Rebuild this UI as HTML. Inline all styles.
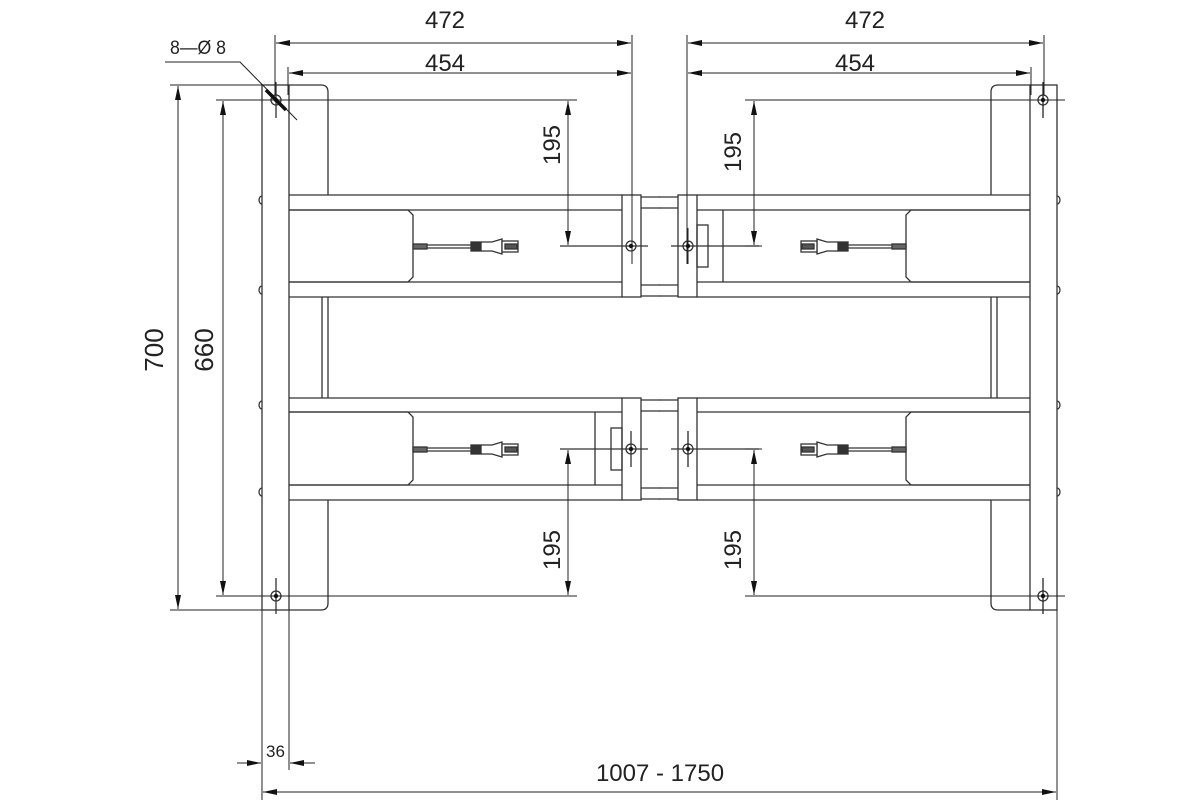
<!DOCTYPE html>
<html><head><meta charset="utf-8"><style>
html,body{margin:0;padding:0;background:#fff;}
svg{display:block;}
text{font-family:"Liberation Sans",sans-serif;fill:#222;}
</style></head><body>
<svg width="1200" height="800" viewBox="0 0 1200 800" xmlns="http://www.w3.org/2000/svg">
<defs>
<marker id="a" viewBox="0 0 14 6" refX="14" refY="3" markerWidth="14" markerHeight="6" markerUnits="userSpaceOnUse" orient="auto-start-reverse"><path d="M0,0 L14,3 L0,6 Z" fill="#111"/></marker>
<g id="half" fill="none" stroke="#333" stroke-width="1.3">
  <rect x="262" y="85" width="27" height="525"/>
  <path d="M289,85 H321 Q328,85 328,92 V195"/>
  <path d="M289,610 H321 Q328,610 328,603 V500"/>
  <path d="M262,196 a3,4 0 0 0 0,8 M262,286 a3,4 0 0 0 0,8 M262,401 a3,4 0 0 0 0,8 M262,488 a3,4 0 0 0 0,8"/>
  <line x1="322" y1="297" x2="322" y2="398"/><line x1="328" y1="297" x2="328" y2="398"/>
  <path d="M289,195 H622 M289,210 H622 M289,282 H622 M289,297 H622"/>
  <path d="M289,398 H622 M289,412 H622 M289,485 H622 M289,500 H622"/>
  <path d="M641,197 H660 M641,208 H660 M641,285 H660 M641,296 H660"/>
  <path d="M641,400 H660 M641,411 H660 M641,488 H660 M641,499 H660"/>
  <path d="M289,210 H408 L413,215 V277 L408,282 H289"/>
  <path d="M289,412 H408 L413,417 V480 L408,485 H289"/>
  <rect x="622" y="195" width="19" height="102"/>
  <rect x="622" y="398" width="19" height="102"/>
  <circle cx="276" cy="100" r="5"/><circle cx="276" cy="596" r="5"/>
  <circle cx="631" cy="246" r="5"/><circle cx="631" cy="449" r="5"/>
  <g id="conn">
    <rect x="413" y="244" width="14" height="5" fill="#666"/>
    <path d="M427,245 H471 M427,248 H471"/>
    <rect x="471" y="242" width="10" height="9" fill="#333"/>
    <path d="M481,242 H492 L502,239 V254 L492,251 H481"/>
    <rect x="502" y="241" width="16" height="11" fill="#fff"/>
    <rect x="505" y="244" width="12" height="5" fill="#555"/>
  </g>
  <use href="#conn" transform="translate(0,203)"/>
  <path d="M276,82 V118 M631,431 V467 M276,578 V614"/>
  <path d="M560,246 H648 M560,449 H648"/>
</g>
</defs>
<use href="#half"/>
<use href="#half" transform="translate(1319,0) scale(-1,1)"/>
<g fill="none" stroke="#333" stroke-width="1.3">
  <rect x="697" y="225" width="11" height="42"/>
  <line x1="723" y1="210" x2="723" y2="282"/>
  <rect x="611" y="428" width="11" height="42"/>
  <line x1="595" y1="412" x2="595" y2="485"/>
</g>
<g stroke="#222" stroke-width="1" fill="none">
  <line x1="275" y1="35" x2="275" y2="95"/>
  <line x1="288" y1="67" x2="288" y2="95"/>
  <line x1="632" y1="35" x2="632" y2="264"/>
  <line x1="687" y1="35" x2="687" y2="264"/>
  <line x1="1044" y1="35" x2="1044" y2="95"/>
  <line x1="1031" y1="67" x2="1031" y2="95"/>
  <line x1="276" y1="43" x2="631" y2="43" marker-start="url(#a)" marker-end="url(#a)"/>
  <line x1="289" y1="73" x2="631" y2="73" marker-start="url(#a)" marker-end="url(#a)"/>
  <line x1="688" y1="43" x2="1043" y2="43" marker-start="url(#a)" marker-end="url(#a)"/>
  <line x1="688" y1="73" x2="1030" y2="73" marker-start="url(#a)" marker-end="url(#a)"/>
  <path d="M216,100 H577 M216,596 H577 M745,100 H1065 M745,596 H1065"/>
  <path d="M1043,82 V118 M1043,578 V614 M688,228 V264 M688,431 V467"/>
  <line x1="568" y1="101" x2="568" y2="245" marker-start="url(#a)" marker-end="url(#a)"/>
  <line x1="568" y1="450" x2="568" y2="595" marker-start="url(#a)" marker-end="url(#a)"/>
  <line x1="754" y1="101" x2="754" y2="245" marker-start="url(#a)" marker-end="url(#a)"/>
  <line x1="754" y1="450" x2="754" y2="595" marker-start="url(#a)" marker-end="url(#a)"/>
  <path d="M745,246 H762 M745,449 H762"/>
  <line x1="170" y1="85" x2="262" y2="85"/>
  <line x1="170" y1="610" x2="262" y2="610"/>
  <line x1="178" y1="86" x2="178" y2="609" marker-start="url(#a)" marker-end="url(#a)"/>
  <line x1="223" y1="101" x2="223" y2="595" marker-start="url(#a)" marker-end="url(#a)"/>
  <path d="M165,62 H240 L297,120"/>
  <line x1="262" y1="610" x2="262" y2="800"/>
  <line x1="289" y1="610" x2="289" y2="770"/>
  <line x1="1057" y1="610" x2="1057" y2="800"/>
  <line x1="237" y1="763" x2="261" y2="763" marker-end="url(#a)"/>
  <line x1="315" y1="763" x2="290" y2="763" marker-end="url(#a)"/>
  <line x1="263" y1="792" x2="1056" y2="792" marker-start="url(#a)" marker-end="url(#a)"/>
</g>
<g stroke="#111" stroke-width="3.5"><line x1="266" y1="90" x2="286" y2="110"/></g>
<g fill="#111">
  <circle cx="276" cy="100" r="2.2"/><circle cx="276" cy="596" r="2.2"/>
  <circle cx="631" cy="246" r="2.2"/><circle cx="631" cy="449" r="2.2"/>
  <circle cx="1043" cy="100" r="2.2"/><circle cx="1043" cy="596" r="2.2"/>
  <circle cx="688" cy="246" r="2.2"/><circle cx="688" cy="449" r="2.2"/>
</g>
<g font-size="24" text-anchor="middle">
  <text x="445" y="28">472</text>
  <text x="865" y="28">472</text>
  <text x="445" y="71">454</text>
  <text x="855" y="71">454</text>
  <text transform="translate(560,145) rotate(-90)">195</text>
  <text transform="translate(741,152) rotate(-90)">195</text>
  <text transform="translate(560,550) rotate(-90)">195</text>
  <text transform="translate(741,550) rotate(-90)">195</text>
  <text font-size="26" transform="translate(163,350) rotate(-90)">700</text>
  <text font-size="26" transform="translate(213,350) rotate(-90)">660</text>
  <text x="660" y="781">1007 - 1750</text>
</g>
<g font-size="19">
  <text x="170" y="54" textLength="56" lengthAdjust="spacingAndGlyphs">8—Ø 8</text>
  <text x="266" y="757" font-size="17">36</text>
</g>
</svg>
</body></html>
